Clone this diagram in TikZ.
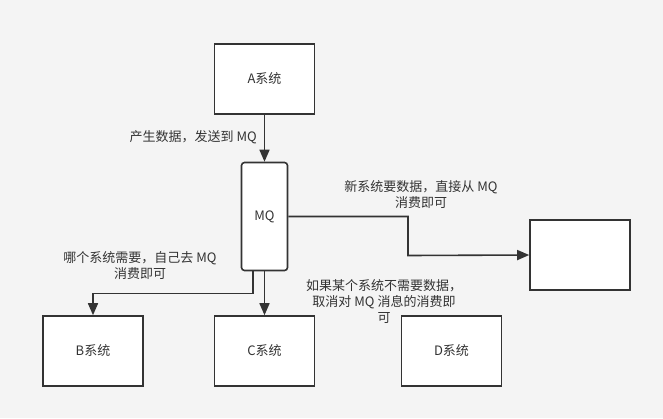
\documentclass[tikz,border=0pt]{standalone}
\usepackage{fontspec}
\setmainfont{Noto Sans CJK SC}
\usetikzlibrary{arrows.meta}
\definecolor{bg}{HTML}{F4F4F4}
\definecolor{ln}{HTML}{333333}
\definecolor{tx}{HTML}{333333}
\begin{document}
\begin{tikzpicture}[x=1pt,y=-1pt,
  sysbox/.style={draw=ln,fill=white,line width=1.6pt,minimum width=100pt,minimum height=70pt,inner sep=0pt,font=\fontsize{13}{16}\selectfont,text=tx},
  mqbox/.style={draw=ln,fill=white,line width=1.6pt,rounded corners=3pt,minimum width=46pt,minimum height=108pt,inner sep=0pt,font=\fontsize{13}{16}\selectfont,text=tx},
  conn/.style={draw=ln,line width=1.6pt,-{Triangle[length=12pt,width=10pt]}},
  lbl/.style={text=tx,font=\fontsize{13}{16}\selectfont,align=center,inner sep=0pt}]
\fill[bg] (0,0) rectangle (663,418);
\useasboundingbox (0,0) rectangle (663,418);
\node[sysbox] (A) at (264.5,79) {A系统};
\node[mqbox] (MQ) at (264.5,216.5) {MQ};
\node[sysbox] (N) at (580,255) {};
\node[sysbox] (B) at (93,351) {B系统};
\node[sysbox] (C) at (264.5,351) {C系统};
\node[sysbox] (D) at (451.5,351) {D系统};
\coordinate (bx) at (253,270);
\draw[conn] (A) -- (MQ);
\draw[conn] (MQ.east) -- (408,216.5) -- (408,255.5) -- (N.west);
\draw[conn] (MQ.south -| bx) -- (253,293.5) -- (93,293.5) -- (B.north);
\draw[conn] (MQ) -- (C);
\node[lbl,anchor=east] (l1) at (257,137) {产生数据，发送到 MQ};
\node[lbl] (l2) at (421,195) {新系统要数据，直接从 MQ\\消费即可};
\node[lbl] (l3) at (140,265.5) {哪个系统需要，自己去 MQ\\消费即可};
\node[lbl] (l4) at (384,302) {如果某个系统不需要数据，\\取消对 MQ 消息的消费即\\可};
\end{tikzpicture}
\end{document}
